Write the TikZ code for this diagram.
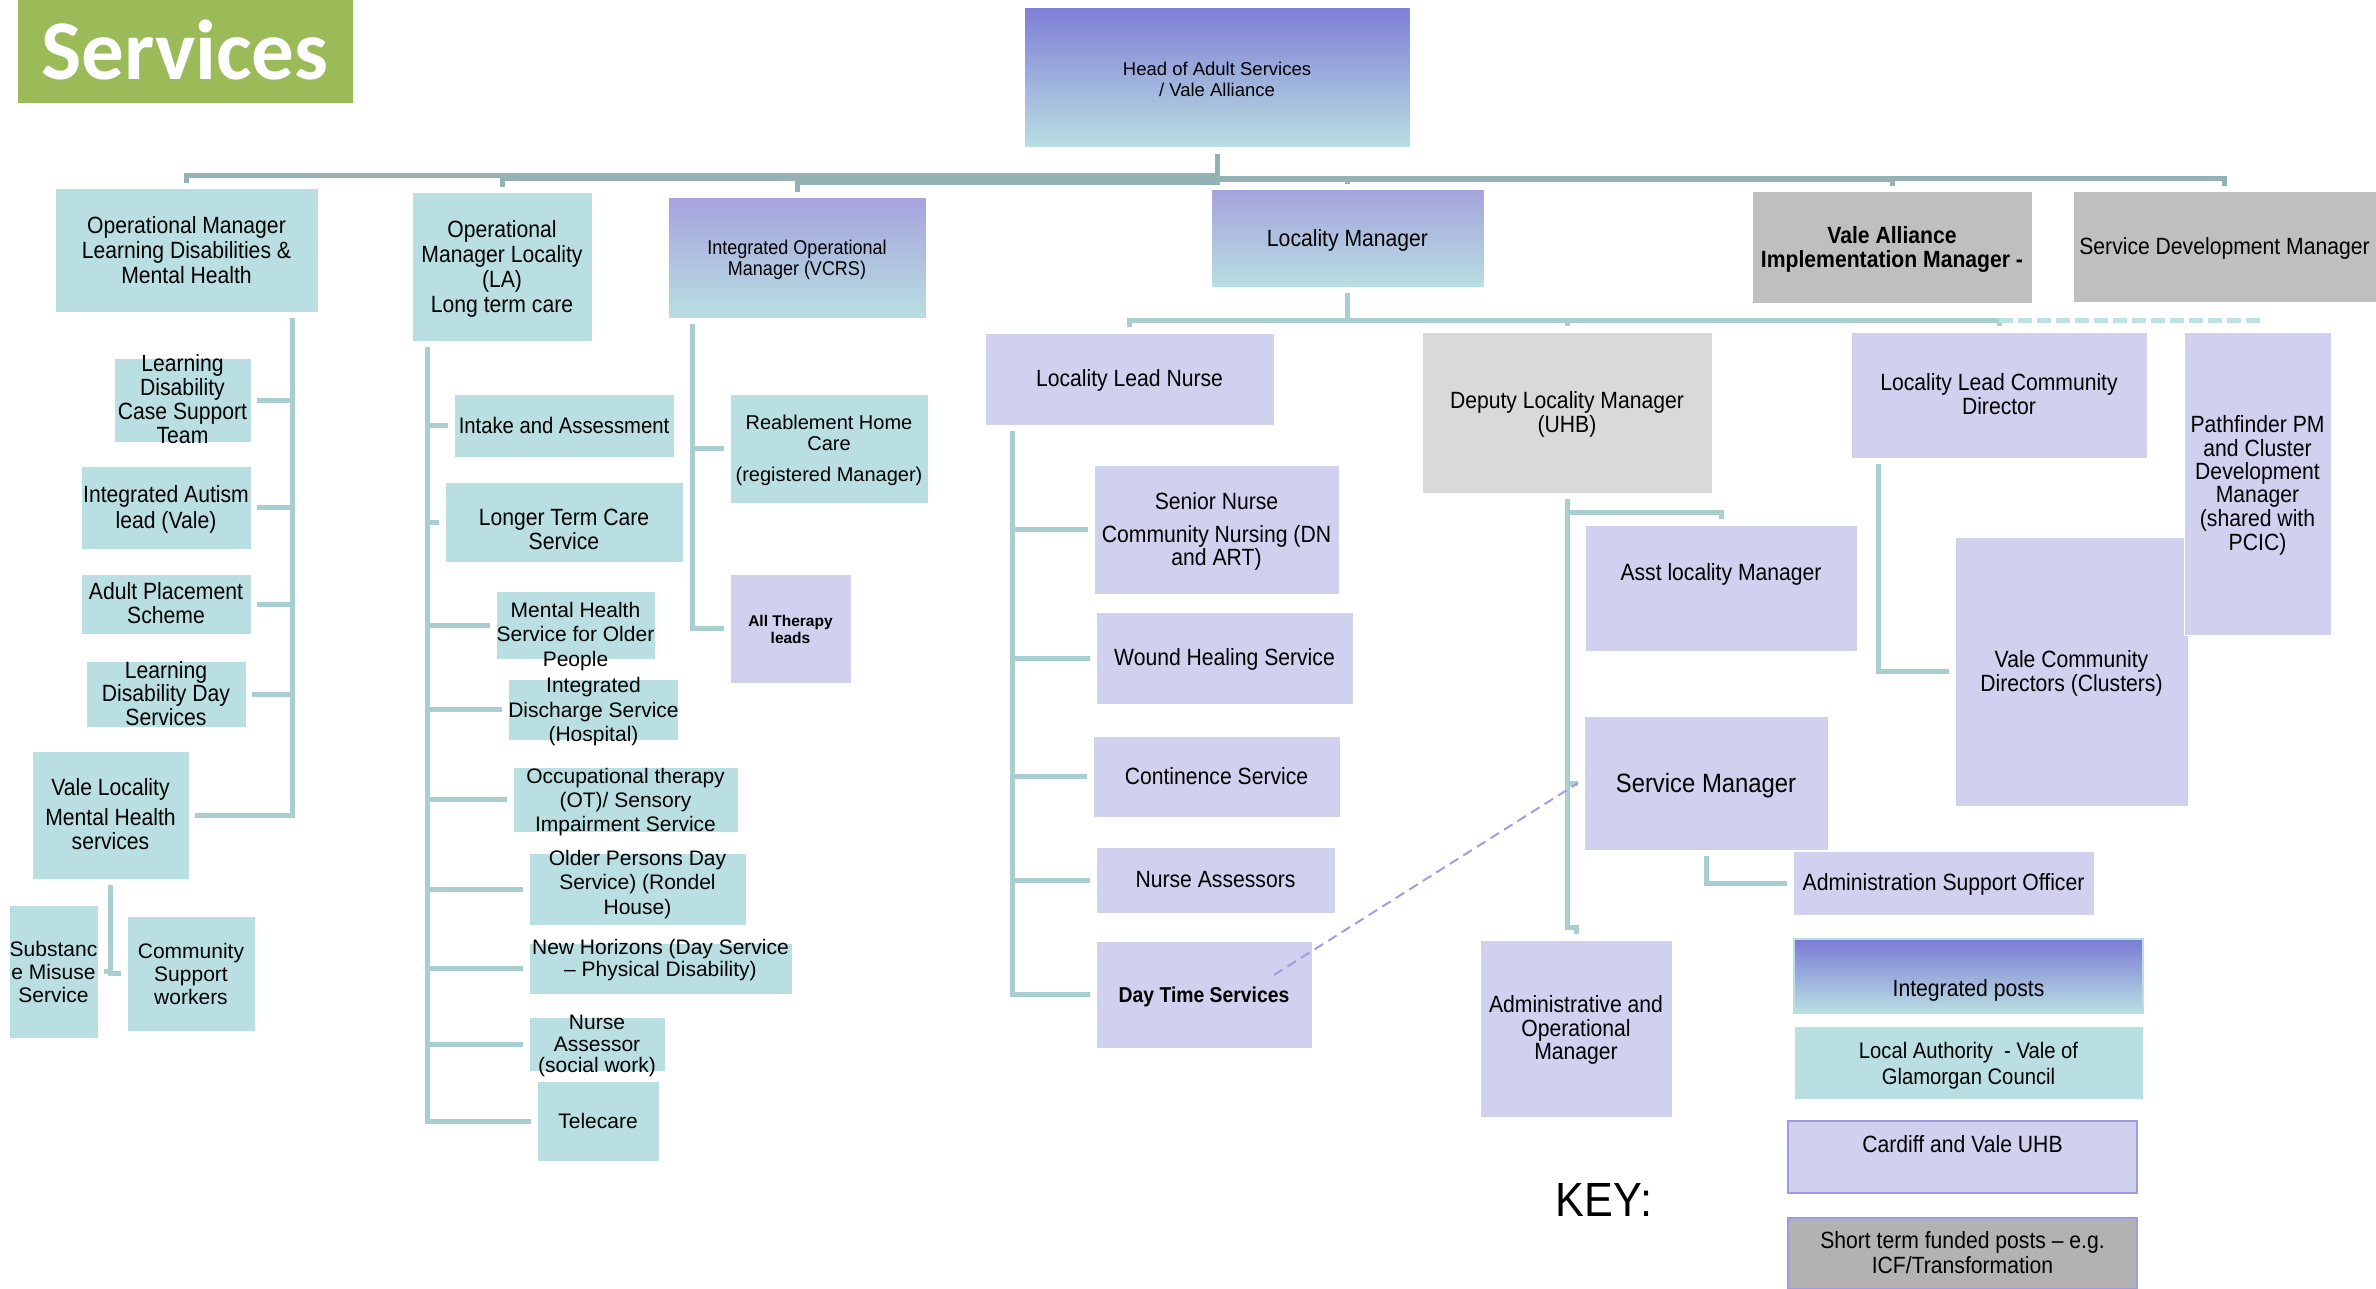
\documentclass[tikz,border=0pt]{standalone}
\usepackage{fontspec}
\setmainfont{Liberation Sans}
\newfontfamily\nar[FakeStretch=0.9]{Liberation Sans}
\newfontfamily\hdfont{Carlito}
\definecolor{tealc}{HTML}{B9DFE2}
\definecolor{lavc}{HTML}{D0D0EF}
\definecolor{headtop}{HTML}{7F7FD6}
\definecolor{gradtop}{HTML}{A5A3DC}
\definecolor{keytop}{HTML}{7B7BD5}
\definecolor{busc}{HTML}{94B1B4}
\definecolor{linkc}{HTML}{A9CED1}
\definecolor{dashc}{HTML}{BCE2E5}
\definecolor{dlinec}{HTML}{A09EE2}
\definecolor{lavborder}{HTML}{9C9CE0}
\definecolor{servgreen}{HTML}{9BBB59}
\newcommand{\boxtext}[2][0pt]{\smash{\raisebox{\dimexpr-.25em-3pt-(#1)\relax}{\begin{tabular}{@{}c@{}}#2\end{tabular}}}}

\begin{document}
\begin{tikzpicture}[x=1pt, y=-1pt,
  box/.style = {rectangle, inner sep=0pt, outer sep=6pt, draw=white, line width=1pt},
  sz/.style 2 args = {minimum width=#1pt, minimum height=#2pt},
  labox/.style = {box, fill=tealc},
  uhbbox/.style = {box, fill=lavc},
  intbox/.style = {box, top color=#1, bottom color=tealc},
  shortbox/.style = {box, fill=#1},
  nf/.style = {font=\nar\fontsize{23.5}{#1}\selectfont}, nf/.default=22.5,
  rf/.style = {font=\fontsize{21}{#1}\selectfont}, rf/.default=22,
  bus/.style = {draw=busc, line width=5pt},
  link/.style = {draw=linkc, line width=5pt},
  dline/.style = {draw=dlinec, line width=2pt, dash pattern=on 10pt off 6pt}]
\useasboundingbox (0,0) rectangle (2376,1289);

\node[box, fill=servgreen, sz={336}{104}, text=white, font=\hdfont\bfseries\fontsize{85}{90}\selectfont] (services) at (185,52) {\boxtext[-9pt]{Services}};
\node[intbox=headtop, sz={386}{140}, font=\fontsize{18.5}{21}\selectfont] (head) at (1217,78) {\boxtext{Head of Adult Services\\/ Vale Alliance}};

% learning disabilities and mental health
\node[labox, nf=25, sz={263}{123}] (opld) at (186.5,250.5) {\boxtext{Operational Manager\\Learning Disabilities \&\\Mental Health}};
\node[labox, nf=24, sz={137}{84}] (ldcase) at (182.5,400) {\boxtext{Learning\\Disability\\Case Support\\Team}};
\node[labox, nf=26, sz={170}{83}] (autism) at (166,507.5) {\boxtext{Integrated Autism\\lead (Vale)}};
\node[labox, nf=24, sz={170}{60}] (adult) at (166,604) {\boxtext{Adult Placement\\Scheme}};
\node[labox, nf=21.5, sz={160}{66}] (lddays) at (166,694) {\boxtext{Learning\\Disability Day\\Services}};
\node[labox, nf=24, sz={157}{128}] (valemh) at (110.5,815) {\boxtext{Vale Locality\\[6pt]Mental Health\\services}};
\node[labox, rf=23, sz={89}{133}] (subst) at (53.5,971.5) {\boxtext{Substanc\\e Misuse\\Service}};
\node[labox, rf=23, sz={128}{115}] (commsup) at (191,973.5) {\boxtext{Community\\Support\\workers}};

% locality (LA)
\node[labox, nf=25, sz={180}{148}] (oploc) at (502,267) {\boxtext{Operational\\Manager Locality\\(LA)\\Long term care}};
\node[labox, font=\nar\fontsize{22.5}{22}\selectfont, sz={220}{63}] (intake) at (564,425.5) {\boxtext{Intake and Assessment}};
\node[labox, nf=24, sz={238}{80}] (longer) at (564,522) {\boxtext[8pt]{Longer Term Care\\Service}};
\node[labox, rf=24.5, sz={159}{68}] (mhop) at (575.5,625) {\boxtext[9pt]{Mental Health\\Service for Older\\People}};
\node[labox, rf=24.5, sz={169}{61}] (idis) at (593.5,709.5) {\boxtext{Integrated\\Discharge Service\\(Hospital)}};
\node[labox, rf=24, sz={225}{65}] (ot) at (625.5,799.5) {\boxtext{Occupational therapy\\(OT)/ Sensory\\Impairment Service}};
\node[labox, rf=24.5, sz={217}{72}] (opds) at (637.5,889) {\boxtext[-7pt]{Older Persons Day\\Service) (Rondel\\House)}};
\node[labox, rf=22, sz={263}{51}] (newh) at (660.5,968.5) {\boxtext[-10pt]{New Horizons (Day Service\\– Physical Disability)}};
\node[labox, rf=21.5, sz={136}{54}] (nassr) at (597,1044) {\boxtext{Nurse\\Assessor\\(social work)}};
\node[labox, rf, sz={122}{80}] (tele) at (598,1121) {\boxtext{Telecare}};

% VCRS
\node[intbox=gradtop, font=\nar\fontsize{20}{19.5}\selectfont, sz={258}{120}] (intop) at (797,258) {\boxtext{Integrated Operational\\Manager (VCRS)}};
\node[labox, font=\fontsize{20}{21}\selectfont, sz={198}{109}] (reable) at (829,448.5) {\boxtext{Reablement Home\\Care\\[10pt](registered Manager)}};
\node[uhbbox, font=\bfseries\fontsize{15.5}{17}\selectfont, sz={121}{109}] (therapy) at (790.5,628.5) {\boxtext{All Therapy\\leads}};

% locality manager
\node[intbox=gradtop, nf, sz={273}{97}] (lm) at (1347.5,238.5) {\boxtext{Locality Manager}};
\node[uhbbox, nf, sz={289}{92}] (lln) at (1129.5,379) {\boxtext{Locality Lead Nurse}};
\node[uhbbox, nf=21, sz={245}{129}] (snurse) at (1216.5,529.5) {\boxtext{Senior Nurse\\[10pt]Community Nursing (DN\\and ART)}};
\node[uhbbox, nf, sz={257}{92}] (wound) at (1224.5,658) {\boxtext{Wound Healing Service}};
\node[uhbbox, nf, sz={247}{81}] (cont) at (1216.5,776.5) {\boxtext{Continence Service}};
\node[uhbbox, nf, sz={239}{66}] (nass) at (1215.5,880) {\boxtext{Nurse Assessors}};
\node[uhbbox, font=\nar\bfseries\fontsize{21.5}{22}\selectfont, sz={216}{107}] (dts) at (1204,994.5) {\boxtext{Day Time Services}};
\node[shortbox=black!15, nf, sz={290}{161}] (dep) at (1567,412.5) {\boxtext{Deputy Locality Manager\\(UHB)}};
\node[uhbbox, nf, sz={272}{126}] (asst) at (1721,588) {\boxtext[-15pt]{Asst locality Manager}};
\node[uhbbox, font=\nar\fontsize{26.5}{26}\selectfont, sz={244}{134}] (sm) at (1706,783) {\boxtext{Service Manager}};
\node[uhbbox, nf, sz={301}{64}] (aso) at (1943.5,883) {\boxtext{Administration Support Officer}};
\node[uhbbox, nf, sz={192}{177}] (admop) at (1576,1028.5) {\boxtext{Administrative and\\Operational\\Manager}};

% alliance and community directors
\node[shortbox=black!25, font=\nar\bfseries\fontsize{23.5}{22}\selectfont, sz={280}{111}] (vaim) at (1892,247.5) {\boxtext{Vale Alliance\\Implementation Manager -}};
\node[shortbox=black!25, nf, sz={303}{110}] (sdm) at (2224.5,247) {\boxtext{Service Development Manager}};
\node[uhbbox, nf, sz={296}{126}] (llcd) at (1999,395) {\boxtext{Locality Lead Community\\Director}};
\node[uhbbox, nf, sz={233}{269}] (vcd) at (2071.5,671.5) {\boxtext{Vale Community\\Directors (Clusters)}};
\node[uhbbox, nf, sz={147}{303}] (pathf) at (2257.5,483.5) {\boxtext{Pathfinder PM\\and Cluster\\Development\\Manager\\(shared with\\PCIC)}};

% key
\node[font=\nar\fontsize{48}{48}\selectfont] (keylabel) at (1604,1200) {KEY:};
\node[intbox=keytop, draw=tealc, line width=2pt, nf, sz={349}{74}] (keyint) at (1968.5,976) {\boxtext[13pt]{Integrated posts}};
\node[labox, font=\nar\fontsize{22.5}{26}\selectfont, sz={349}{73}] (keyla) at (1968.5,1062.5) {\boxtext{Local Authority~ - Vale of\\Glamorgan Council}};
\node[uhbbox, draw=lavborder, line width=2.5pt, nf, sz={349}{72}] (keyuhb) at (1962.5,1157) {\boxtext[-12pt]{Cardiff and Vale UHB}};
\node[shortbox=black!30, draw=lavborder, line width=2.5pt, nf=25, sz={349}{71}] (keyst) at (1962.5,1253.5) {\boxtext{Short term funded posts – e.g.\\ICF/Transformation}};

\draw[bus] (head.south) -- ++(0,22) -| (opld.north);
\draw[bus] (head.south) -- ++(0,25) -| (oploc.north);
\draw[bus] (head.south) -- ++(0,29) -| (intop.north);
\draw[bus] (head.south) -- ++(0,25) -| (lm.north);
\draw[bus] (head.south) -- ++(0,25.5) -| (vaim.north);
\draw[bus] (head.south) -- ++(0,25) -| (sdm.north);

\draw[link] (opld.south east) ++(-32,0) |- (ldcase.east);
\draw[link] (opld.south east) ++(-32,0) |- (autism.east);
\draw[link] (opld.south east) ++(-32,0) |- (adult.east);
\draw[link] (opld.south east) ++(-32,0) |- (lddays.east);
\draw[link] (opld.south east) ++(-32,0) |- (valemh.east);
\draw[link] (valemh.south) |- (subst.east);
\draw[link] (valemh.south) |- (commsup.west);

\draw[link] (oploc.south west) ++(21,0) |- (intake.west);
\draw[link] (oploc.south west) ++(21,0) |- (longer.west);
\draw[link] (oploc.south west) ++(21,0) |- (mhop.west);
\draw[link] (oploc.south west) ++(21,0) |- (idis.west);
\draw[link] (oploc.south west) ++(21,0) |- (ot.west);
\draw[link] (oploc.south west) ++(21,0) |- (opds.west);
\draw[link] (oploc.south west) ++(21,0) |- (newh.west);
\draw[link] (oploc.south west) ++(21,0) |- (nassr.west);
\draw[link] (oploc.south west) ++(21,0) |- (tele.west);

\draw[link] (intop.south west) ++(30,0) |- (reable.west);
\draw[link] (intop.south west) ++(30,0) |- (therapy.west);

\draw[link] (lm.south) -- ++(0,27) -| (lln.north);
\draw[link] (lm.south) -- ++(0,27) -| (dep.north);
\draw[link] (lm.south) -- ++(0,27) -| (llcd.north);
\draw[link, draw=dashc, dash pattern=on 14pt off 5pt] (llcd.north) ++(0,-6) -| (pathf.north);

\draw[link] (lln.south west) ++(33,0) |- (snurse.west);
\draw[link] (lln.south west) ++(33,0) |- (wound.west);
\draw[link] (lln.south west) ++(33,0) |- (cont.west);
\draw[link] (lln.south west) ++(33,0) |- (nass.west);
\draw[link] (lln.south west) ++(33,0) |- (dts.west);

\draw[link] (dep.south) -- ++(0,13) -| (asst.north);
\draw[link] (dep.south) |- (sm.west);
\draw[link] (dep.south) -- ++(0,428) -| (admop.north);
\draw[link] (sm.south) |- (aso.west);
\draw[link] (llcd.south west) ++(33,0) |- (vcd.west);
\draw[dline] (dts.north east) ++(-44,40) -- (sm.west);
\end{tikzpicture}
\end{document}
